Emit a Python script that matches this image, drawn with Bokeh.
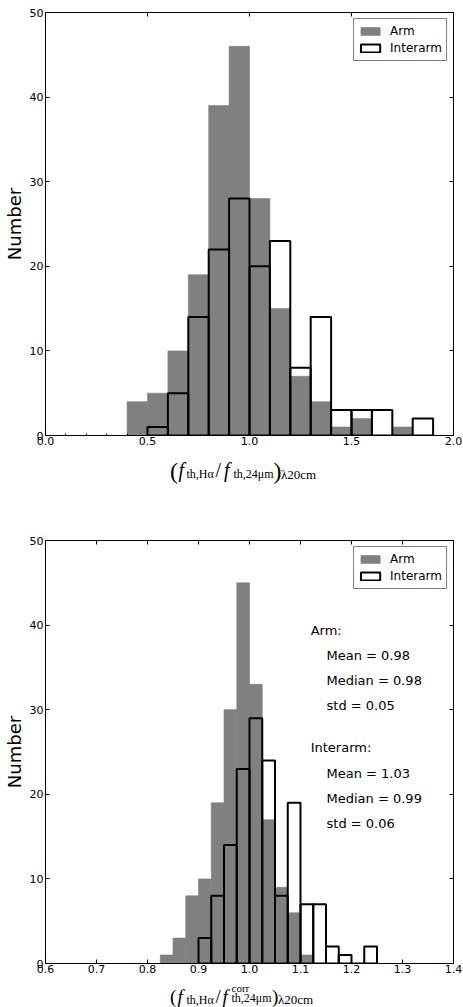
from bokeh.plotting import figure
from bokeh.models import (Label, Legend, LegendItem, LinearAxis, FixedTicker,
                          PrintfTickFormatter, Range1d, CustomJSTickFormatter)
from bokeh.layouts import column
from bokeh.embed import file_html
from bokeh.resources import INLINE

# ---------------- data: top panel ----------------
top_arm_edges = [0.4, 0.5, 0.6, 0.7, 0.8, 0.9, 1.0, 1.1, 1.2, 1.3, 1.4, 1.5, 1.6, 1.7, 1.8, 1.9]
top_arm_counts = [4, 5, 10, 19, 39, 46, 28, 15, 7, 4, 1, 2, 0, 1, 0]
top_inter_edges = [0.5, 0.6, 0.7, 0.8, 0.9, 1.0, 1.1, 1.2, 1.3, 1.4, 1.5, 1.6, 1.7, 1.8, 1.9]
top_inter_counts = [1, 5, 14, 22, 28, 20, 23, 8, 14, 3, 3, 3, 0, 2]
top_xticks = [0.0, 0.5, 1.0, 1.5, 2.0]

# ---------------- data: bottom panel ----------------
bot_arm_edges = [0.825, 0.85, 0.875, 0.9, 0.925, 0.95, 0.975, 1.0, 1.025, 1.05, 1.075, 1.1, 1.125]
bot_arm_counts = [1, 3, 8, 10, 19, 30, 45, 33, 17, 9, 6, 1]
bot_inter_edges = [0.9, 0.925, 0.95, 0.975, 1.0, 1.025, 1.05, 1.075, 1.1, 1.125, 1.15, 1.175, 1.2, 1.225, 1.25]
bot_inter_counts = [3, 8, 14, 23, 29, 24, 8, 19, 7, 7, 2, 1, 0, 2]
bot_xticks = [0.6, 0.7, 0.8, 0.9, 1.0, 1.1, 1.2, 1.3, 1.4]

yticks = [0, 10, 20, 30, 40, 50]
series_labels = ["Arm", "Interarm"]
stats_text = ["Arm:", "Mean = 0.98", "Median = 0.98", "std = 0.05",
              "Interarm:", "Mean = 1.03", "Median = 0.99", "std = 0.06"]

GRAY = "#808080"
TICK_FONT = "DejaVu Sans"
MATH_FONT = "Liberation Serif"
W = 463


def blank_axis(ticker):
    ax = LinearAxis(ticker=ticker, formatter=CustomJSTickFormatter(code="return ''"),
                    major_label_standoff=0, major_label_text_font_size="1px",
                    major_tick_in=4, major_tick_out=0,
                    minor_tick_in=0, minor_tick_out=0,
                    axis_line_color="black", major_tick_line_color="black")
    return ax


def make_panel(height, top_border, bottom_border, xr, xticks, minor,
               arm_edges, arm_counts, inter_edges, inter_counts):
    p = figure(width=W, height=height, output_backend="svg", toolbar_location=None,
               x_range=Range1d(*xr), y_range=Range1d(0, 50),
               min_border_left=42, min_border_right=10,
               min_border_top=top_border, min_border_bottom=bottom_border)
    p.grid.visible = False
    p.outline_line_color = "black"
    p.outline_line_width = 1
    p.background_fill_color = "white"
    p.border_fill_color = "white"

    r_arm = p.quad(left=arm_edges[:-1], right=arm_edges[1:], bottom=0, top=arm_counts,
                   fill_color=GRAY, line_color=GRAY, line_width=0.6)
    r_int = p.quad(left=inter_edges[:-1], right=inter_edges[1:], bottom=0, top=inter_counts,
                   fill_alpha=0, fill_color="white", line_color="black", line_width=2)

    xt = FixedTicker(ticks=xticks, minor_ticks=minor)
    yt = FixedTicker(ticks=yticks, minor_ticks=[])

    xa = p.xaxis[0]
    xa.ticker = xt
    xa.formatter = PrintfTickFormatter(format="%.1f")
    ya = p.yaxis[0]
    ya.ticker = yt
    ya.formatter = PrintfTickFormatter(format="%d")
    for ax in (xa, ya):
        ax.major_tick_in = 4
        ax.major_tick_out = 0
        ax.minor_tick_out = 0
        ax.axis_line_color = "black"
        ax.major_tick_line_color = "black"
        ax.minor_tick_line_color = "black"
        ax.major_label_text_font = TICK_FONT
        ax.major_label_text_font_size = "11px"
        ax.major_label_text_color = "black"
        ax.major_label_standoff = 2
    xa.major_label_standoff = 1
    xa.minor_tick_in = 2 if minor else 0
    ya.minor_tick_in = 0
    ya.axis_label = "Number"
    ya.axis_label_text_font = TICK_FONT
    ya.axis_label_text_font_size = "18px"
    ya.axis_label_text_font_style = "normal"
    ya.axis_label_text_color = "black"
    ya.axis_label_standoff = 2

    p.add_layout(blank_axis(FixedTicker(ticks=xticks, minor_ticks=[])), "above")
    p.add_layout(blank_axis(FixedTicker(ticks=yticks, minor_ticks=[])), "right")

    legend = Legend(items=[LegendItem(label=series_labels[0], renderers=[r_arm]),
                           LegendItem(label=series_labels[1], renderers=[r_int])],
                    location="top_right", margin=6, padding=4, spacing=1,
                    glyph_width=24, glyph_height=10, label_standoff=8, label_height=16,
                    label_text_font=TICK_FONT, label_text_font_size="12px",
                    label_text_color="black",
                    border_line_color="black", border_line_width=1,
                    background_fill_color="white", background_fill_alpha=1)
    p.add_layout(legend)
    return p


def label_fig(height, xr):
    f = figure(width=W, height=height, output_backend="svg", toolbar_location=None,
               x_range=Range1d(*xr), y_range=Range1d(0, height),
               x_axis_type=None, y_axis_type=None,
               min_border_left=42, min_border_right=10,
               min_border_top=0, min_border_bottom=0)
    f.grid.visible = False
    f.outline_line_color = None
    f.background_fill_color = "white"
    f.border_fill_color = "white"
    return f


def lab(f, cx, dx, y, text, size, italic=False):
    f.add_layout(Label(x=cx, x_offset=dx, y=y, text=text, text_font=MATH_FONT,
                       text_font_size=f"{size}px", text_color="black",
                       text_font_style="italic" if italic else "normal",
                       text_align="left", text_baseline="alphabetic"))


# ---------------- top panel ----------------
p1 = make_panel(448, 12, 13, (0, 2), top_xticks,
                [0.1, 0.2, 0.3, 0.4, 0.6, 0.7, 0.8, 0.9, 1.1, 1.2, 1.3, 1.4, 1.6, 1.7, 1.8, 1.9],
                top_arm_edges, top_arm_counts, top_inter_edges, top_inter_counts)

l1 = label_fig(42, (0, 2))
c1 = 1.0
lab(l1, c1, -79.5, 20, "(", 24)
lab(l1, c1, -71, 21, "f", 20, italic=True)
lab(l1, c1, -63, 17, "th,Hα", 12)
lab(l1, c1, -34, 21, "/", 20)
lab(l1, c1, -25.5, 21, "f", 20, italic=True)
lab(l1, c1, -16, 17, "th,24μm", 12)
lab(l1, c1, 24, 20, ")", 24)
lab(l1, c1, 31.5, 16, "λ20cm", 13)

# ---------------- bottom panel ----------------
p2 = make_panel(486, 50, 13, (0.6, 1.4), bot_xticks, [],
                bot_arm_edges, bot_arm_counts, bot_inter_edges, bot_inter_counts)

stat_x = [1.12, 1.151, 1.151, 1.151, 1.12, 1.151, 1.151, 1.151]
stat_y = [39.4, 36.4, 33.5, 30.5, 25.5, 22.5, 19.5, 16.5]
for t, x, y in zip(stats_text, stat_x, stat_y):
    p2.add_layout(Label(x=x, y=y, text=t, text_font=TICK_FONT, text_font_size="13px",
                        text_color="black", text_align="left", text_baseline="middle"))

l2 = label_fig(31, (0.6, 1.4))
c2 = 1.0
lab(l2, c2, -79.5, 11, "(", 19)
lab(l2, c2, -72, 11, "f", 19, italic=True)
lab(l2, c2, -63, 8, "th,Hα", 12)
lab(l2, c2, -34, 11, "/", 19)
lab(l2, c2, -27, 11, "f", 19, italic=True)
lab(l2, c2, -18, 20, "corr", 11)
lab(l2, c2, -18, 10, "th,24μm", 12)
lab(l2, c2, 22.5, 11, ")", 19)
lab(l2, c2, 28.5, 8, "λ20cm", 13)

layout = column(p1, l1, p2, l2, spacing=0)
open("out.html", "w").write(file_html(layout, INLINE))
